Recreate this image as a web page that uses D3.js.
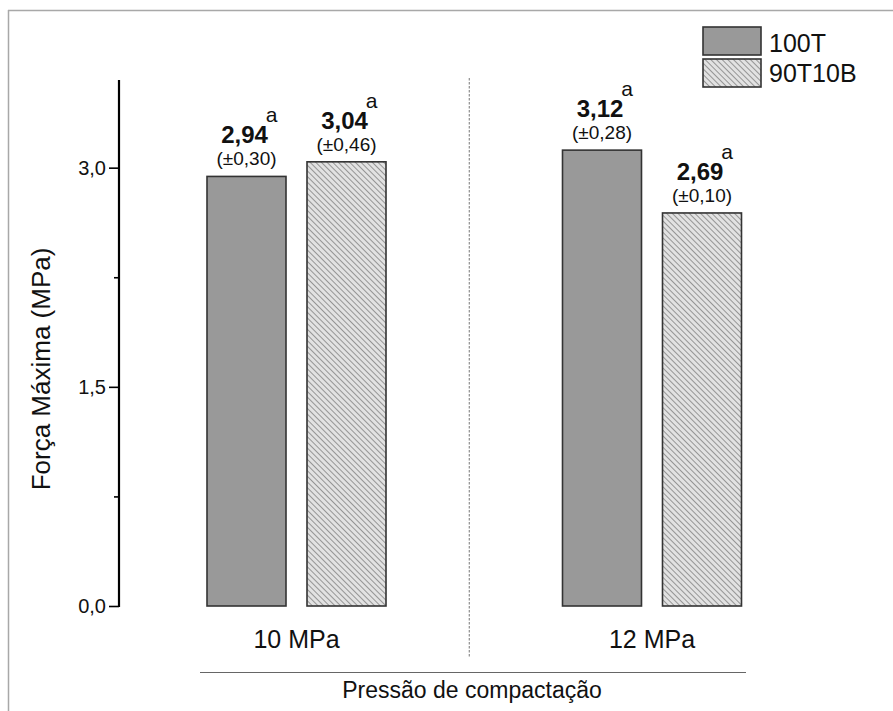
<!DOCTYPE html>
<html><head><meta charset="utf-8">
<script src="https://cdn.jsdelivr.net/npm/d3@7"></script>
<style>
html,body{margin:0;padding:0;background:#fff;}
svg{display:block;font-family:"Liberation Sans",Arial,sans-serif;}
</style></head>
<body>
<svg id="chart" width="893" height="711"></svg>
<script>
const categories = ["10 MPa", "12 MPa"];
const series = ["100T", "90T10B"];
const values100T = [2.94, 3.12];
const values90T10B = [3.04, 2.69];
const sd100T = [0.30, 0.28];
const sd90T10B = [0.46, 0.10];
const letters100T = ["a", "a"];
const letters90T10B = ["a", "a"];
const yMajorTicks = [0, 1.5, 3.0];
const yMinorTicks = [0.75, 2.25];
const yTitle = "Força Máxima (MPa)";
const xTitle = "Pressão de compactação";

const fmt = v => d3.format(".2f")(v).replace(".", ",");
const fmt1 = v => d3.format(".1f")(v).replace(".", ",");

const svg = d3.select("#chart");

// frame lines
svg.append("line").attr("x1", 8).attr("x2", 893).attr("y1", 10.5).attr("y2", 10.5)
  .attr("stroke", "#a8a8a8").attr("stroke-width", 1.5);
svg.append("line").attr("x1", 8.5).attr("x2", 8.5).attr("y1", 10).attr("y2", 711)
  .attr("stroke", "#a8a8a8").attr("stroke-width", 1.5);

// pattern
const defs = svg.append("defs");
const pat = defs.append("pattern").attr("id", "hatch").attr("patternUnits", "userSpaceOnUse")
  .attr("width", 4).attr("height", 4).attr("patternTransform", "rotate(-45)");
pat.append("rect").attr("width", 4).attr("height", 4).attr("fill", "#e2e2e2");
pat.append("line").attr("x1", 0).attr("x2", 0).attr("y1", 0).attr("y2", 4)
  .attr("stroke", "#555").attr("stroke-width", 1.1);

const fills = ["#999999", "url(#hatch)"];

const y = d3.scaleLinear().domain([0, 3.6]).range([606, 80]);
const x = d3.scaleBand().domain(categories).range([118.75, 829.75]);
const xs = d3.scaleBand().domain(series).range([-89.5, 89.5]).paddingInner(0.21);

// y axis
const axisX = 119;
const yAxis = d3.axisLeft(y).tickValues(yMajorTicks).tickFormat(fmt1).tickSize(10).tickSizeOuter(0);
const gy = svg.append("g").attr("transform", `translate(${axisX},0)`).call(yAxis);
gy.select(".domain").remove();
gy.selectAll(".tick line").attr("stroke", "#000").attr("stroke-width", 1.6);
gy.selectAll(".tick text").attr("font-size", 20).attr("fill", "#111").attr("x", -13)
  .attr("font-family", "'Liberation Sans',Arial,sans-serif");
const yMinor = d3.axisLeft(y).tickValues(yMinorTicks).tickFormat("").tickSize(5).tickSizeOuter(0);
const gym = svg.append("g").attr("transform", `translate(${axisX},0)`).call(yMinor);
gym.select(".domain").remove();
gym.selectAll(".tick line").attr("stroke", "#000").attr("stroke-width", 1.6);
svg.append("line").attr("x1", axisX).attr("x2", axisX).attr("y1", y(3.6)).attr("y2", y(0) + 1)
  .attr("stroke", "#000").attr("stroke-width", 2.2);

// y title
svg.append("text").attr("transform", `translate(50,${(y(0) + y(3.6)) / 2 + 26}) rotate(-90)`)
  .attr("text-anchor", "middle").attr("font-size", 26).attr("fill", "#111").text(yTitle);

// divider
const divX = (x(categories[0]) + x(categories[1]) + x.bandwidth()) / 2 - 5;
svg.append("line").attr("x1", divX).attr("x2", divX).attr("y1", 78).attr("y2", 658)
  .attr("stroke", "#777").attr("stroke-width", 1).attr("stroke-dasharray", "2.5,1.5");

// bars
const data = [];
categories.forEach((c, i) => {
  data.push({cat: c, s: series[0], v: values100T[i], sd: sd100T[i], l: letters100T[i], k: 0});
  data.push({cat: c, s: series[1], v: values90T10B[i], sd: sd90T10B[i], l: letters90T10B[i], k: 1});
});
const cx = d => x(d.cat) + x.bandwidth() / 2;
svg.selectAll("rect.bar").data(data).enter().append("rect").attr("class", "bar")
  .attr("x", d => cx(d) + xs(d.s))
  .attr("y", d => y(d.v))
  .attr("width", xs.bandwidth())
  .attr("height", d => y(0) - y(d.v))
  .attr("fill", d => fills[d.k])
  .attr("stroke", "#333").attr("stroke-width", 1.6);

// labels
data.forEach(d => {
  const bc = cx(d) + xs(d.s) + xs.bandwidth() / 2;
  const top = y(d.v);
  svg.append("text").attr("x", bc).attr("y", top - 11).attr("text-anchor", "middle")
    .attr("font-size", 19).attr("fill", "#111").text(`(±${fmt(d.sd)})`);
  const vt = svg.append("text").attr("x", bc - 2).attr("y", top - 33).attr("text-anchor", "middle")
    .attr("font-size", 24).attr("font-weight", "bold").attr("fill", "#111").text(fmt(d.v));
  const w = vt.node().getComputedTextLength();
  svg.append("text").attr("x", bc - 2 + w / 2 - 2).attr("y", top - 54)
    .attr("font-size", 21).attr("fill", "#111").text(d.l);
});

// category labels
svg.selectAll("text.cat").data(categories).enter().append("text").attr("class", "cat")
  .attr("x", d => x(d) + x.bandwidth() / 2).attr("y", 648).attr("text-anchor", "middle")
  .attr("font-size", 25).attr("fill", "#111").text(d => d);

// x title line + text
svg.append("line").attr("x1", 200).attr("x2", 746).attr("y1", 672.5).attr("y2", 672.5)
  .attr("stroke", "#666").attr("stroke-width", 1.2);
svg.append("text").attr("x", 472).attr("y", 698).attr("text-anchor", "middle")
  .attr("font-size", 23).attr("fill", "#111").text(xTitle);

// legend
series.forEach((s, i) => {
  svg.append("rect").attr("x", 703).attr("y", 27 + i * 32).attr("width", 58).attr("height", 28)
    .attr("fill", fills[i]).attr("stroke", "#333").attr("stroke-width", 1.6);
  svg.append("text").attr("x", 769).attr("y", 52 + i * 30).attr("font-size", 25)
    .attr("fill", "#111").text(s);
});
</script>
</body></html>
